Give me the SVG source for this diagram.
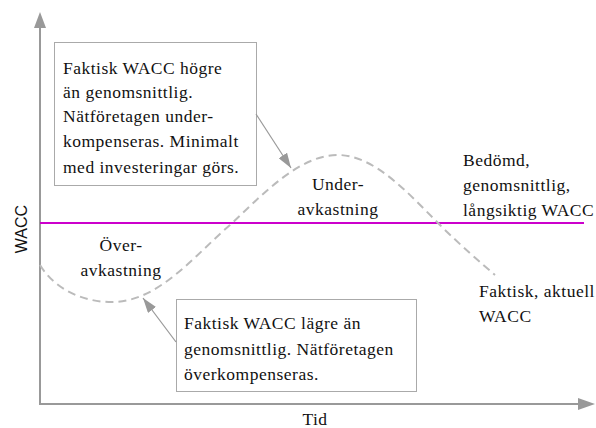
<svg xmlns="http://www.w3.org/2000/svg" width="596" height="428" viewBox="0 0 596 428">
<style>
.t{font-family:'Liberation Serif','DejaVu Serif',serif;font-size:17.5px;letter-spacing:0.5px;fill:#111}
.c{text-anchor:middle}
.box{fill:#fff;stroke:#aaa;stroke-width:1}
.axis{stroke:#999;stroke-width:2;fill:none}
.conn{stroke:#999;stroke-width:1.2;fill:none}
</style>
<defs>
<marker id="aa" viewBox="0 0 15 10" refX="15" refY="5" markerWidth="15" markerHeight="10" markerUnits="userSpaceOnUse" orient="auto">
<path d="M0,0 L15,5 L0,10 Z" fill="#999"/>
</marker>
</defs>
<g id="axes">
<line class="axis" x1="40" y1="405" x2="40" y2="28"/>
<path d="M34,28 L40,12 L46,28 Z" fill="#999"/>
<line class="axis" x1="40" y1="404" x2="578" y2="404"/>
<path d="M578,398 L595,404 L578,410 Z" fill="#999"/>
<text x="27" y="229" transform="rotate(-90 27 229)" font-family="Liberation Sans,Arial,sans-serif" font-size="16" fill="#111" text-anchor="middle">WACC</text>
<text class="t c" x="315" y="425">Tid</text>
</g>
<g id="benchmark">
<line x1="40" y1="223" x2="584" y2="223" stroke="#cc00cc" stroke-width="2"/>
<text class="t"><tspan x="463" y="166">Bedömd,</tspan><tspan x="463" y="191">genomsnittlig,</tspan><tspan x="463" y="216">långsiktig WACC</tspan></text>
</g>
<g id="actual">
<path d="M40,265 C55,290 85,303 115,302 C160,300 195,255 230,225 C265,192 300,155 338,155 C375,155 410,195 440,225 C460,245 480,262 495,275" fill="none" stroke="#bbb" stroke-width="2" stroke-dasharray="8,5"/>
<text class="t"><tspan x="479" y="297">Faktisk, aktuell</tspan><tspan x="479" y="322">WACC</tspan></text>
</g>
<g id="under">
<text class="t c"><tspan x="338" y="190">Under-</tspan><tspan x="338" y="215">avkastning</tspan></text>
</g>
<g id="over">
<text class="t c"><tspan x="121" y="251">Över-</tspan><tspan x="121" y="276">avkastning</tspan></text>
</g>
<g id="box-high">
<rect class="box" x="54.5" y="42.5" width="202" height="143"/>
<text class="t"><tspan x="63" y="74">Faktisk WACC högre</tspan><tspan x="63" y="98">än genomsnittlig.</tspan><tspan x="63" y="122">Nätföretagen under-</tspan><tspan x="63" y="147">kompenseras. Minimalt</tspan><tspan x="63" y="173">med investeringar görs.</tspan></text>
</g>
<g id="box-low">
<rect class="box" x="176.5" y="299.5" width="240" height="92"/>
<text class="t"><tspan x="184" y="329">Faktisk WACC lägre än</tspan><tspan x="184" y="355">genomsnittlig. Nätföretagen</tspan><tspan x="184" y="380">överkompenseras.</tspan></text>
</g>
<g id="connectors">
<line class="conn" x1="256" y1="114" x2="291" y2="168" marker-end="url(#aa)"/>
<line class="conn" x1="176" y1="342" x2="143" y2="298" marker-end="url(#aa)"/>
</g>
</svg>
